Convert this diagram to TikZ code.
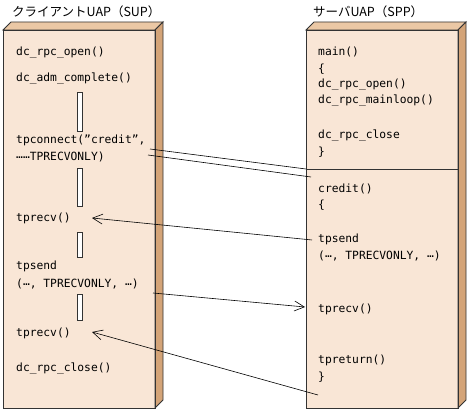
\documentclass[tikz,border=0pt]{standalone}
\usepackage{fontspec}
\setmonofont{DejaVu Sans Mono}
\newfontfamily\jpfont{Noto Sans CJK JP}
\usetikzlibrary{arrows.meta}
\definecolor{frontc}{HTML}{F9E6D6}
\definecolor{topc}{HTML}{EBC8A5}
\definecolor{sidec}{HTML}{D4A478}
\definecolor{edgec}{HTML}{333333}
\newcommand{\mdots}{\raisebox{0.35ex}{…}}
\tikzset{
  face/.style={draw=edgec, line width=0.9pt, line join=miter},
  code/.style={anchor=west, inner sep=0pt, font=\ttfamily\fontsize{11.3}{12}\selectfont, text=black},
  title/.style={anchor=west, inner sep=0pt, font=\jpfont\fontsize{12.5}{13}\selectfont, text=black},
  waitbar/.style={draw=edgec, fill=white, line width=0.8pt},
  msg/.style={draw=black, line width=0.6pt},
  msgarrow/.style={msg, -{Straight Barb[length=10pt,width=10pt,line width=0.6pt]}},
}
\begin{document}
\begin{tikzpicture}[x=1pt,y=-1pt]
\useasboundingbox (0,0) rectangle (468,411);
% left box
\fill[frontc] (3,30) rectangle (155,408);
\draw[face, fill=topc] (3,30) -- (11,22) -- (163,22) -- (155,30) -- cycle;
\draw[face, fill=sidec] (155,30) -- (163,22) -- (163,400) -- (155,408) -- cycle;
\draw[face] (3,30) rectangle (155,408);
% right box
\fill[frontc] (306,30) rectangle (458,408);
\draw[face, fill=topc] (306,30) -- (314,22) -- (466,22) -- (458,30) -- cycle;
\draw[face, fill=sidec] (458,30) -- (466,22) -- (466,400) -- (458,408) -- cycle;
\draw[face] (306,30) rectangle (458,408);
\draw[face] (306,169) -- (458,169);
% titles
\node[title] (tl) at (12,12) {クライアントUAP（SUP）};
\node[title] (tr) at (313,12) {サーバUAP（SPP）};
% left texts
\node[code] (lopen) at (16,53) {dc\_rpc\_open()};
\node[code] (ladm) at (16,79) {dc\_adm\_complete()};
\node[code] (lcon1) at (16,140) {tpconnect(”credit”,};
\node[code] (lcon2) at (16,157) {\mdots\mdots TPRECVONLY)};
\node[code] (lrecv1) at (16,218) {tprecv()};
\node[code] (lsend1) at (16,266) {tpsend};
\node[code] (lsend2) at (16,284) {(\mdots, TPRECVONLY, \mdots)};
\node[code] (lrecv2) at (16,333) {tprecv()};
\node[code] (lclose) at (16,369) {dc\_rpc\_close()};
% wait bars
\draw[waitbar] (77,92) rectangle (82,131);
\draw[waitbar] (77,168) rectangle (82,206);
\draw[waitbar] (77,232) rectangle (82,257);
\draw[waitbar] (77,294) rectangle (82,320);
% right texts
\node[code] (rmain) at (318,52) {main()};
\node[code] (rb1) at (318,69) {\{};
\node[code] (ropen) at (318,85) {dc\_rpc\_open()};
\node[code] (rloop) at (318,101) {dc\_rpc\_mainloop()};
\node[code] (rclose) at (318,136) {dc\_rpc\_close};
\node[code] (rb2) at (318,152) {\}};
\node[code] (rcredit) at (318,189) {credit()};
\node[code] (rb3) at (318,205) {\{};
\node[code] (rsend1) at (318,239) {tpsend};
\node[code] (rsend2) at (318,256) {(\mdots, TPRECVONLY, \mdots)};
\node[code] (rrecv) at (318,309) {tprecv()};
\node[code] (rret) at (318,360) {tpreturn()};
\node[code] (rb4) at (318,377) {\}};
% connector end points
\coordinate (c1a) at (150,149);
\coordinate (c1b) at (306,169);
\coordinate (c2a) at (148,155);
\coordinate (c2b) at (311,177);
\coordinate (s1) at (312,240);
\coordinate (r1) at (92,218);
\coordinate (s2) at (153,293);
\coordinate (r2) at (305,307);
\coordinate (s3) at (318,395);
\coordinate (r3) at (92,332);
% connectors
\draw[msg] (c1a) -- (c1b);
\draw[msg] (c2a) -- (c2b);
\draw[msgarrow] (s1) -- (r1);
\draw[msgarrow] (s2) -- (r2);
\draw[msgarrow] (s3) -- (r3);
\end{tikzpicture}
\end{document}
